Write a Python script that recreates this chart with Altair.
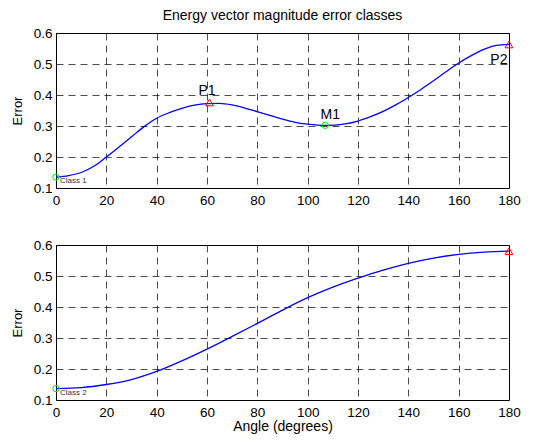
import altair as alt
import pandas as pd

# Class 1 curve
ang1 = [0, 5, 10, 15, 20, 25, 30, 35, 40, 45, 50, 55, 60, 65, 70, 75, 80, 85, 90, 95, 100, 107, 115, 120, 125, 130, 135, 140, 145, 150, 155, 160, 165, 170, 175, 180]
err1 = [0.135, 0.140, 0.150, 0.170, 0.200, 0.232, 0.265, 0.298, 0.325, 0.343, 0.357, 0.367, 0.372, 0.373, 0.368, 0.358, 0.346, 0.334, 0.322, 0.312, 0.306, 0.302, 0.307, 0.316, 0.330, 0.347, 0.368, 0.392, 0.418, 0.446, 0.475, 0.503, 0.527, 0.547, 0.560, 0.563]

# Class 2 curve
ang2 = [0, 10, 20, 30, 40, 50, 60, 70, 80, 90, 100, 110, 120, 130, 140, 150, 160, 170, 180]
err2 = [0.137, 0.140, 0.150, 0.166, 0.192, 0.226, 0.264, 0.305, 0.347, 0.390, 0.430, 0.464, 0.493, 0.519, 0.541, 0.558, 0.570, 0.577, 0.580]

# markers
p_ang1 = [61, 180]
p_err1 = [0.376, 0.563]
m_ang1 = [0, 107]
m_err1 = [0.135, 0.302]
p_ang2 = [180]
p_err2 = [0.580]
m_ang2 = [0]
m_err2 = [0.137]

# labels
lab_txt1 = ["P1", "M1", "P2"]
lab_ang1 = [60, 109, 176]
lab_err1 = [0.413, 0.334, 0.514]

x_ticks = list(range(0, 181, 20))
y_ticks = [0.1, 0.2, 0.3, 0.4, 0.5, 0.6]

FONT = "Liberation Sans"
W, H = 453, 155


def panel(ang, err, pa, pe, ma, me, cls_label, labels, xtitle, title=None):
    xs = alt.Scale(domain=[0, 180], nice=False, zero=False)
    ys = alt.Scale(domain=[0.1, 0.6], nice=False, zero=False)
    X = alt.X("a:Q", scale=xs, axis=alt.Axis(values=x_ticks, title=xtitle, format="d",
                                              labelOverlap=False, labelFlush=False))
    Y = alt.Y("e:Q", scale=ys, axis=alt.Axis(values=y_ticks, title="Error", format=".1f",
                                              labelOverlap=False, labelFlush=False))
    line_df = pd.DataFrame({"a": ang, "e": err})
    base_line = alt.Chart(line_df).mark_line(color="#0000ff", strokeWidth=1.3, interpolate="monotone").encode(
        x=X, y=Y)
    tri = alt.Chart(pd.DataFrame({"a": pa, "e": pe})).mark_point(
        shape="triangle-up", color="#ff0000", size=60, strokeWidth=1, filled=False, clip=False, opacity=1
    ).encode(x=X, y=Y)
    circ = alt.Chart(pd.DataFrame({"a": ma, "e": me})).mark_point(
        shape="circle", color="#00ee00", size=40, strokeWidth=1, filled=False, clip=False, opacity=1
    ).encode(x=X, y=Y)
    cls = alt.Chart(pd.DataFrame({"a": [ma[0]], "e": [me[0]], "t": [cls_label]})).mark_text(
        align="left", baseline="middle", dx=4, dy=4, fontSize=8, font=FONT, color="#333333"
    ).encode(x=X, y=Y, text="t:N")
    layers = [base_line, tri, circ, cls]
    if labels is not None:
        txt = alt.Chart(pd.DataFrame({"a": labels[1], "e": labels[2], "t": labels[0]})).mark_text(
            align="center", baseline="middle", fontSize=14, font=FONT, color="#000000"
        ).encode(x=X, y=Y, text="t:N")
        layers.append(txt)
    ch = alt.layer(*layers).properties(width=W, height=H)
    if title:
        ch = ch.properties(title=alt.Title(title, fontSize=14, font=FONT, fontWeight="normal",
                                           offset=0, frame="group", anchor="middle", dy=-3))
    return ch


top = panel(ang1, err1, p_ang1, p_err1, m_ang1, m_err1, "Class 1",
            (lab_txt1, lab_ang1, lab_err1), None, "Energy vector magnitude error classes")
bot = panel(ang2, err2, p_ang2, p_err2, m_ang2, m_err2, "Class 2", None, "Angle (degrees)")

chart = alt.vconcat(top, bot, spacing=30).properties(
    padding={"left": 2, "top": 0, "right": 5, "bottom": 0}
).configure_view(stroke="#000000", strokeWidth=1).configure_axis(
    grid=True, gridColor="#000000", gridOpacity=0.7, gridDash=[7, 5], gridWidth=1,
    domain=False, ticks=False, labelFont=FONT, labelFontSize=13.5, labelColor="#000000",
    labelPadding=4, titleFont=FONT, titleFontSize=14, titleFontWeight="normal",
    titleColor="#000000"
).configure_axisY(titlePadding=9, titleFontSize=13).configure_axisX(titlePadding=1, labelPadding=5)

chart.save("out.html", embed_options={"renderer": "svg", "actions": False})
